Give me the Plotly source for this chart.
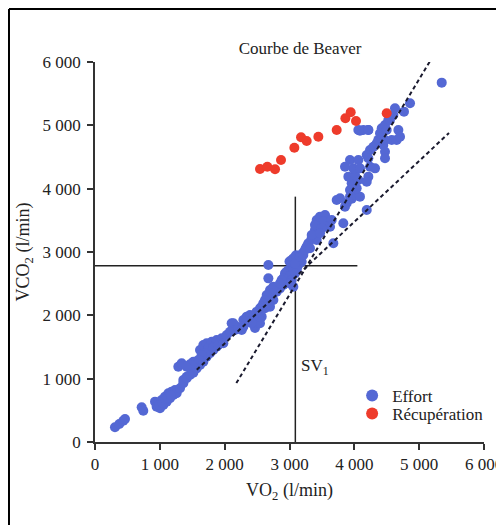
import plotly.graph_objects as go

# ---- data ----
effort_vo2 = [308, 375, 437, 463, 720, 745,
    926, 951, 977, 1003, 1028, 1054, 1080, 1105, 1131, 1157, 1182, 1208, 1234, 1259, 990, 1040, 1090, 1120, 1170,
    1285, 1337, 1465, 1414, 1362,
    1311, 1362, 1414, 1465, 1517, 1568, 1620, 1671, 1722, 1774, 1825, 1877,
    1620, 1671, 1722, 1748, 1800, 1825, 1877, 1902, 1954, 1979, 2031, 1697, 1645,
    1645, 1594, 1517, 1491, 1414,
    2108, 2185, 2468, 2133, 2159, 2082, 2211, 2263,
    2288, 2340, 2391, 2442, 2494, 2545, 2596, 2648, 2674, 2725, 2751, 2699, 2802, 2854, 2905, 2956, 3008, 3059, 3111,
    2879, 2931, 3059, 3034, 2674, 2674, 2571, 2545,
    2699, 2751, 2725, 2648, 2622, 2596, 2622, 2571, 2494, 2519, 2442, 2417, 2340, 2288,
    2982, 2956, 2931, 3059, 3136, 3188, 3111, 3034, 2982, 2905, 3085, 3034, 3059, 3008, 2879, 2854,
    3000, 3060, 3100, 3150, 3200, 3250, 3290, 3085, 3162, 3213,
    3393, 3368, 3342, 3419, 3291, 3265, 3239, 3316,
    3548, 3471, 3419, 3574, 3522, 3676, 3445, 3497,
    3420, 3471, 3548, 3522, 3651, 3574, 3625, 3393, 3497, 3830, 3342, 3471,
    3728, 3779, 3882, 3856, 3933, 3960, 4191,
    4011, 4087, 3933, 4036, 3959, 4062, 4216, 4191, 3908, 4011, 3985, 3856, 3933, 4087, 4062,
    4087, 4139, 4216, 4062, 4216,
    4242, 4242, 4319, 4191, 4216, 4294, 4345, 4370, 4396, 4422, 4447, 4473, 4473, 4473, 4473, 4499, 4524,
    4550, 4576, 4602, 4627, 4653, 4679, 4705, 4766, 4859, 5348]
effort_vco2 = [232, 284, 336, 363, 548, 494,
    637, 558, 611, 532, 663, 584, 716, 637, 769, 690, 795, 742, 821, 769, 580, 620, 680, 700, 740,
    1189, 1242, 1227, 1031, 979,
    848, 927, 1006, 1058, 1095, 1163, 1216, 1268, 1347, 1400, 1453, 1505,
    1453, 1532, 1558, 1479, 1584, 1505, 1611, 1532, 1637, 1558, 1690, 1400, 1374,
    1268, 1295, 1268, 1216, 1189,
    1874, 1821, 1800, 1874, 1768, 1742, 1795, 1768,
    1926, 1979, 2005, 1953, 2032, 2111, 2163, 2216, 2295, 2321, 2242, 2137, 2374, 2426, 2479, 2558, 2611, 2663, 2716,
    2532, 2611, 2821, 2874, 2584, 2795, 1979, 1874,
    2400, 2452, 2348, 2321, 2242, 2190, 2111, 2137, 2058, 1979, 1979, 1874, 1900, 1821,
    2716, 2689, 2663, 2716, 2795, 2847, 2742, 2637, 2610, 2584, 2663, 2558, 2452, 2505, 2558, 2505,
    2850, 2900, 2950, 2920, 2980, 3050, 3120, 2821, 2926, 2953,
    3348, 3269, 3216, 3190, 3137, 3085, 3032, 3058,
    3584, 3532, 3479, 3479, 3400, 3137, 3400, 3453,
    3506, 3558, 3558, 3479, 3506, 3400, 3400, 3427, 3374, 3453, 3269, 3295,
    3821, 3848, 3769, 3716, 3874, 3840, 3663,
    3900, 3874, 3979, 4005, 4084, 4137, 4190, 4111, 4190, 4216, 4321, 4347, 4453, 4321, 4453,
    4916, 4927, 4927, 4926, 4926,
    4611, 4347, 4321, 4532, 4479, 4663, 4716, 4770, 4874, 4953, 4690, 5005, 4769, 4584, 4479, 4926, 5085,
    5084, 4769, 5163, 5269, 4768, 4927, 4821, 5216, 5348, 5674]

recup_vo2 = [2545, 2658, 2777, 2869, 3075, 3178, 3265, 3445, 3728, 3862, 3944, 4026, 4499]
recup_vco2 = [4311, 4347, 4306, 4453, 4647, 4811, 4753, 4821, 4927, 5111, 5206, 5069, 5190]

# dashed V-slope fit lines (endpoints)
fit1_vo2 = [1570, 5460]
fit1_vco2 = [1140, 4880]
fit2_vo2 = [2180, 5300]
fit2_vco2 = [930, 6240]

# threshold lines
sv1_vo2 = 3090
sv1_vco2 = 2784
hline_end = 4047
vline_end = 3874

tick_vals = [0, 1000, 2000, 3000, 4000, 5000, 6000]
tick_text = ["0", "1 000", "2 000", "3 000", "4 000", "5 000", "6 000"]

FONT = "Liberation Serif"
TXT = "#222222"
BLUE = "#5468D4"
RED = "#EE3B2B"

fig = go.Figure()

fig.add_trace(go.Scatter(x=[0, hline_end], y=[sv1_vco2, sv1_vco2], mode="lines",
                         line=dict(color="#222", width=1.5), showlegend=False, hoverinfo="skip"))
fig.add_trace(go.Scatter(x=[sv1_vo2, sv1_vo2], y=[0, vline_end], mode="lines",
                         line=dict(color="#222", width=1.5), showlegend=False, hoverinfo="skip"))

fig.add_trace(go.Scatter(x=effort_vo2, y=effort_vco2, mode="markers", name="Effort",
                         marker=dict(color=BLUE, size=10, line=dict(width=0)), legend="legend"))
fig.add_trace(go.Scatter(x=recup_vo2, y=recup_vco2, mode="markers", name="Récupération",
                         marker=dict(color=RED, size=10, line=dict(width=0)), legend="legend2"))

for xs, ys in [(fit1_vo2, fit1_vco2), (fit2_vo2, fit2_vco2)]:
    fig.add_trace(go.Scatter(x=xs, y=ys, mode="lines", showlegend=False, hoverinfo="skip",
                             line=dict(color="#1a1a2e", width=2, dash="4px,3px")))

axis_common = dict(range=[0, 6000], tickvals=tick_vals, ticktext=tick_text, showgrid=False,
                   zeroline=False, showline=True, linecolor="#333", linewidth=1.5,
                   ticks="outside", ticklen=6, tickwidth=1.5, tickcolor="#333", automargin=False,
                   tickfont=dict(family=FONT, size=17, color=TXT))

legend_common = dict(xanchor="left", yanchor="middle", bgcolor="rgba(0,0,0,0)",
                     font=dict(family=FONT, size=17, color=TXT), itemsizing="constant",
                     itemwidth=30, borderwidth=0)

frame_left = -0.2211
frame_top = (434 - 1) / 380

fig.update_layout(
    width=496, height=517,
    margin=dict(l=87, r=20, t=54, b=83, autoexpand=False),
    paper_bgcolor="white", plot_bgcolor="white",
    font=dict(family=FONT, color=TXT),
    title=dict(text="Courbe de Beaver", font=dict(family=FONT, size=17, color=TXT),
               x=0.527, xref="paper", xanchor="center", y=1 - 40 / 517, yanchor="middle"),
    xaxis=dict(axis_common, title=dict(text="VO<sub>2</sub> (l/min)", standoff=10,
                                      font=dict(family=FONT, size=18, color=TXT))),
    yaxis=dict(axis_common, ticklabelstandoff=3,
               title=dict(text="VCO<sub>2</sub> (l/min)", standoff=8,
                          font=dict(family=FONT, size=18, color=TXT))),
    legend=dict(legend_common, x=0.661, y=0.121),
    legend2=dict(legend_common, x=0.661, y=0.074),
    showlegend=True,
    annotations=[dict(x=sv1_vo2 + 60, y=1180, xref="x", yref="y", text="SV<sub>1</sub>",
                      showarrow=False, xanchor="left", yanchor="middle",
                      font=dict(family=FONT, size=17, color=TXT))],
    shapes=[
        dict(type="line", xref="paper", yref="paper", x0=frame_left, x1=1.1,
             y0=frame_top, y1=frame_top, line=dict(color="black", width=2)),
        dict(type="line", xref="paper", yref="paper", x0=frame_left, x1=frame_left,
             y0=frame_top, y1=-0.3, line=dict(color="black", width=2)),
    ],
)

fig.write_html("out.html")
